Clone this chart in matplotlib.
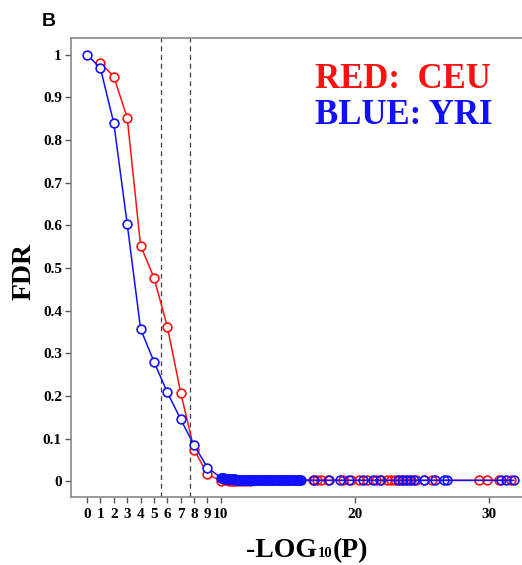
import matplotlib
matplotlib.use("Agg")
import matplotlib.pyplot as plt

# ---------------- data ----------------
ceu_x = [1, 2, 3, 4, 5, 6, 7, 8, 9,
         10.0, 10.3, 10.6, 10.8, 11.0, 11.3, 11.6, 11.9, 12.2,
         16.9, 17.2, 17.5, 18.0, 19.1, 19.75, 20.3, 20.9, 21.6, 22.0,
         22.4, 22.7, 23.0, 23.3, 23.6, 23.9, 24.2, 24.6, 25.2, 25.8,
         29.3, 29.9, 30.8, 31.7]
ceu_y = [0.981, 0.948, 0.852, 0.552, 0.477, 0.362, 0.207, 0.074, 0.016,
         0.001, 0.002, 0.001, 0.000, 0.001, 0.000, 0.001, 0.001, 0.001,
         0.002, 0.002, 0.002, 0.002, 0.002, 0.002, 0.002, 0.002, 0.002, 0.002,
         0.002, 0.002, 0.002, 0.002, 0.002, 0.002, 0.002, 0.002, 0.002, 0.002,
         0.002, 0.002, 0.002, 0.002]

yri_x = [0, 1, 2, 3, 4, 5, 6, 7, 8, 9,
         10.00, 10.08, 10.16, 10.24, 10.32, 10.40, 10.48, 10.56, 10.64, 10.72,
         10.80, 10.88, 10.96, 11.04, 11.12, 11.20, 11.28, 11.36, 11.44, 11.52,
         11.60, 11.68, 11.76, 11.84, 11.92, 12.00, 12.08, 12.16, 12.24, 12.32,
         12.40, 12.48, 12.56, 12.64, 12.72, 12.80, 12.88, 12.96, 13.04, 13.12,
         13.20, 13.28, 13.36, 13.44, 13.52, 13.60, 13.68, 13.76, 13.84, 13.92,
         14.00, 14.08, 14.16, 14.24, 14.32, 14.40, 14.48, 14.56, 14.64, 14.72,
         14.80, 14.88, 14.96, 15.04, 15.12, 15.20, 15.28, 15.36, 15.44, 15.52,
         15.60, 15.68, 15.76, 15.84, 15.92, 16.00,
         16.97, 18.1, 18.9, 19.6, 20.6, 21.4, 21.9, 23.2, 23.5, 23.8, 24.1,
         24.4, 25.15, 26.0, 26.7, 26.9, 30.9, 31.3, 31.9]
yri_y = [1.0, 0.968, 0.839, 0.603, 0.357, 0.280, 0.208, 0.145, 0.084, 0.032,
         0.008, 0.008, 0.007, 0.007, 0.006, 0.006, 0.005, 0.005, 0.005, 0.004,
         0.004, 0.004, 0.004, 0.004, 0.003, 0.003, 0.003, 0.003, 0.003, 0.003,
         0.003, 0.003, 0.003, 0.003, 0.003, 0.003, 0.003, 0.003, 0.003, 0.003,
         0.003, 0.003, 0.003, 0.003, 0.003, 0.003, 0.003, 0.003, 0.003, 0.003,
         0.003, 0.003, 0.003, 0.003, 0.003, 0.003, 0.003, 0.003, 0.003, 0.003,
         0.003, 0.003, 0.003, 0.003, 0.003, 0.003, 0.003, 0.003, 0.003, 0.003,
         0.003, 0.003, 0.003, 0.003, 0.003, 0.003, 0.003, 0.003, 0.003, 0.003,
         0.003, 0.003, 0.003, 0.003, 0.003, 0.003,
         0.002, 0.002, 0.002, 0.002, 0.002, 0.002, 0.002, 0.002, 0.002, 0.002, 0.002,
         0.002, 0.002, 0.002, 0.002, 0.002, 0.002, 0.002, 0.002]

threshold_lines = [5.52, 7.69]

x_ticks = [0, 1, 2, 3, 4, 5, 6, 7, 8, 9, 10, 20, 30]
x_ticklabels = ["0", "1", "2", "3", "4", "5", "6", "7", "8", "9", "10", "20", "30"]
y_ticks = [0, 0.1, 0.2, 0.3, 0.4, 0.5, 0.6, 0.7, 0.8, 0.9, 1.0]
y_ticklabels = ["0", "0.1", "0.2", "0.3", "0.4", "0.5", "0.6", "0.7", "0.8", "0.9", "1"]

xlabel_parts = ["-LOG", "10", "(P)"]

# ---------------- figure ----------------
SERIF = ['Liberation Serif', 'DejaVu Serif']
W, H = 522, 565

fig = plt.figure(figsize=(W / 100, H / 100), dpi=100)
ax = fig.add_axes([0.136, 0.120, 0.864, 0.8127])

red = '#ff1010'
blue = '#1010ff'


def draw_series(xs, ys, color, z, n_head):
    # connecting line
    ax.plot(xs, ys, color=color, lw=1.1, zorder=z)
    # well separated points: white-faced circles (gaps in the line)
    ax.plot(xs[:n_head], ys[:n_head], ls='none', marker='o', ms=6.3,
            mfc='white', mec=color, mew=1.2, zorder=z + 0.5)
    # dense near-zero tail: open circles
    ax.plot(xs[n_head:], ys[n_head:], ls='none', marker='o', ms=6.3,
            mfc='none', mec=color, mew=1.2, zorder=z + 0.5)


draw_series(ceu_x, ceu_y, red, 3, 9)
draw_series(yri_x, yri_y, blue, 4, 10)

for xv in threshold_lines:
    ax.axvline(xv, color='#404040', lw=0.9, ls=(0, (4, 3)), zorder=2)

ax.set_xlim(-1.2, 32.5)
ax.set_ylim(-0.0375, 1.0387)

ax.set_xticks(x_ticks)
ax.set_xticklabels(x_ticklabels, fontfamily=SERIF, fontweight='bold', fontsize=11)
ax.set_yticks(y_ticks)
ax.set_yticklabels(y_ticklabels, fontfamily=SERIF, fontweight='bold', fontsize=11)
ax.tick_params(axis='both', direction='out', length=4, width=1, color='#555555')
ax.tick_params(axis='x', pad=4)
ax.tick_params(axis='y', pad=2.5)

for s in ['left', 'bottom', 'top']:
    ax.spines[s].set_color('#888888')
    ax.spines[s].set_linewidth(1.2)
ax.spines['right'].set_visible(False)

# y label
fig.text(24 / W, 1 - 271 / H, 'FDR', rotation=90, fontfamily=SERIF,
         fontweight='bold', fontsize=20, ha='center', va='center')

# x label with small "10" on the baseline
renderer = fig.canvas.get_renderer()
sizes = [20, 10.5, 20]
base_y = 1 - 557 / H
pieces = []
for txt, fs in zip(xlabel_parts, sizes):
    t = fig.text(0, base_y, txt, fontfamily=SERIF, fontweight='bold',
                 fontsize=fs, ha='left', va='baseline')
    pieces.append(t)
widths = [p.get_window_extent(renderer).width for p in pieces]
total = sum(widths) + 1
x0 = 307 - total / 2
for p, w in zip(pieces, widths):
    p.set_x(x0 / W)
    x0 += w + 0.5

fig.text(315 / W, 1 - 88 / H, 'RED:  CEU', color=red,
         fontfamily=SERIF, fontweight='bold', fontsize=25, va='baseline', ha='left')
fig.text(315 / W, 1 - 124 / H, 'BLUE: YRI', color=blue,
         fontfamily=SERIF, fontweight='bold', fontsize=25, va='baseline', ha='left')

fig.text(42 / W, 1 - 26 / H, 'B', fontfamily=['Liberation Sans', 'DejaVu Sans'],
         fontweight='bold', fontsize=14, va='baseline', ha='left')

fig.savefig('out.png', dpi=100)
